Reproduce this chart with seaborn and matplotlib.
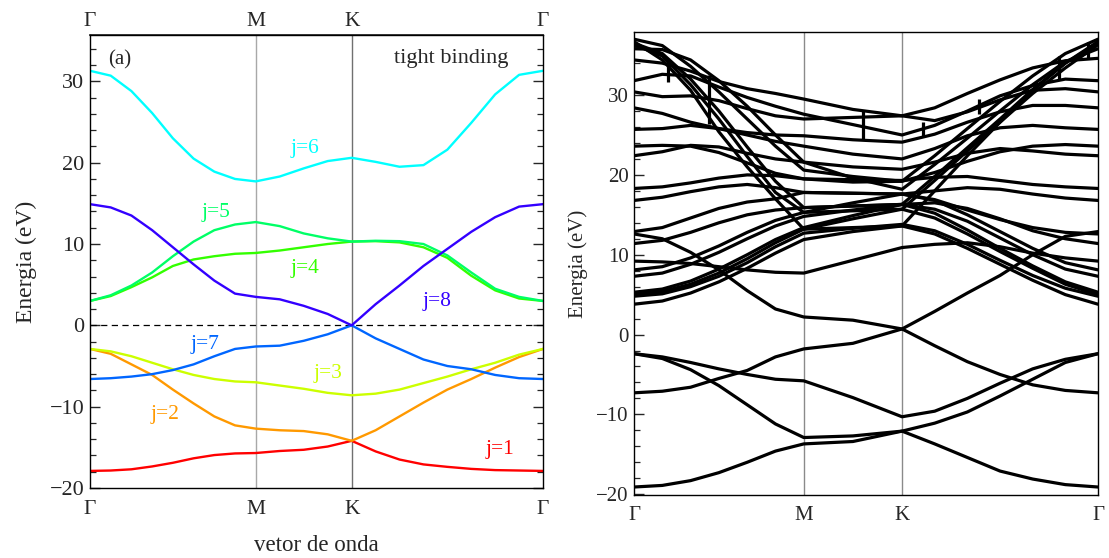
import matplotlib
matplotlib.use("Agg")
import matplotlib.pyplot as plt
import numpy as np
import pandas as pd
import seaborn as sns
from matplotlib.ticker import MultipleLocator

sns.set_theme(style="ticks")
plt.rcParams["font.family"] = ["Liberation Serif", "DejaVu Serif"]

# high-symmetry path Γ–M–K–Γ (path length units, hexagonal lattice)
path_ticks = [0.0, 0.577, 0.911, 1.577]
path_labels = ["Γ", "M", "K", "Γ"]

# ---------------- tight-binding bands (left panel) ----------------
tb_k = [0.0, 0.0721, 0.1443, 0.2164, 0.2885, 0.3606, 0.4328, 0.5049, 0.577,
        0.6605, 0.744, 0.8275, 0.911,
        0.9943, 1.0775, 1.1608, 1.244, 1.3273, 1.4105, 1.4938, 1.577]

tb_j1 = [-17.9, -17.85, -17.7, -17.35, -16.9, -16.35, -15.95, -15.75, -15.7,
         -15.45, -15.3, -14.9, -14.2,
         -15.5, -16.5, -17.1, -17.4, -17.65, -17.8, -17.85, -17.9]
tb_j2 = [-2.9, -3.5, -4.8, -6.1, -7.9, -9.6, -11.2, -12.3, -12.7,
         -12.9, -13.0, -13.4, -14.2,
         -12.9, -11.2, -9.5, -7.9, -6.6, -5.2, -3.9, -2.9]
tb_j3 = [-2.9, -3.2, -3.8, -4.6, -5.4, -6.1, -6.6, -6.9, -7.0,
         -7.4, -7.8, -8.3, -8.6,
         -8.4, -7.9, -7.1, -6.3, -5.4, -4.6, -3.6, -2.9]
tb_j4 = [3.0, 3.6, 4.7, 5.9, 7.3, 8.1, 8.5, 8.8, 8.9,
         9.2, 9.6, 10.0, 10.3,
         10.35, 10.2, 9.6, 8.3, 6.1, 4.3, 3.3, 3.0]
tb_j5 = [3.0, 3.7, 4.9, 6.5, 8.5, 10.3, 11.7, 12.4, 12.7,
         12.2, 11.3, 10.7, 10.3,
         10.4, 10.35, 10.0, 8.6, 6.5, 4.5, 3.5, 3.0]
tb_j6 = [31.3, 30.7, 28.8, 26.1, 23.0, 20.5, 18.9, 18.0, 17.7,
         18.3, 19.3, 20.2, 20.6,
         20.1, 19.5, 19.7, 21.6, 24.9, 28.4, 30.8, 31.3]
tb_j7 = [-6.6, -6.5, -6.3, -6.0, -5.5, -4.8, -3.8, -2.9, -2.6,
         -2.5, -1.9, -1.1, 0.0,
         -1.6, -2.9, -4.2, -5.0, -5.4, -6.1, -6.5, -6.6]
tb_j8 = [14.9, 14.5, 13.5, 11.7, 9.6, 7.5, 5.5, 3.9, 3.5,
         3.2, 2.4, 1.4, 0.0,
         2.6, 4.9, 7.3, 9.4, 11.5, 13.3, 14.6, 14.9]

tb_names = ["j=1", "j=2", "j=3", "j=4", "j=5", "j=6", "j=7", "j=8"]
tb_bands = [tb_j1, tb_j2, tb_j3, tb_j4, tb_j5, tb_j6, tb_j7, tb_j8]
# label anchor (k, E) for each band name
tb_label_k = [1.427, 0.261, 0.829, 0.748, 0.439, 0.748, 0.400, 1.208]
tb_label_E = [-15.3, -11.0, -5.9, 7.0, 13.9, 21.7, -2.4, 2.9]

# ---------------- ab initio bands (right panel) ----------------
dft_k = [0.0, 0.0962, 0.1923, 0.2885, 0.3847, 0.4808, 0.577,
         0.744, 0.911,
         1.022, 1.133, 1.244, 1.355, 1.466, 1.577]

dft_valence = [
    [-19.1, -18.9, -18.3, -17.3, -16.0, -14.6, -13.7, -13.4, -12.1, -13.7, -15.4, -17.1, -18.1, -18.8, -19.1],
    [-2.4, -3.0, -4.4, -6.4, -8.8, -11.2, -12.9, -12.7, -12.1, -11.1, -9.7, -7.7, -5.6, -3.5, -2.4],
    [-2.4, -2.8, -3.5, -4.3, -5.0, -5.6, -5.8, -7.9, -10.3, -9.6, -8.0, -6.1, -4.3, -3.1, -2.4],
    [-7.3, -7.1, -6.6, -5.5, -4.5, -2.8, -1.8, -1.1, 0.7, 2.9, 5.2, 7.4, 10.0, 12.3, 12.9],
    [12.6, 12.0, 10.3, 8.1, 5.5, 3.2, 2.2, 1.8, 0.7, -1.4, -3.4, -5.0, -6.3, -7.0, -7.3],
]
dft_middle = [
    [3.8, 4.2, 5.2, 6.6, 8.3, 10.2, 11.9, 12.9, 13.6, 12.6, 10.8, 8.8, 6.8, 5.0, 3.8],
    [4.8, 5.1, 6.0, 7.3, 9.0, 11.0, 12.7, 13.3, 13.8, 13.0, 11.3, 9.3, 7.4, 5.8, 4.8],
    [5.0, 5.4, 6.3, 7.7, 9.5, 11.5, 13.2, 14.5, 15.7, 14.6, 12.6, 10.4, 8.3, 6.3, 5.0],
    [5.3, 5.7, 6.7, 8.2, 10.0, 11.9, 13.4, 14.9, 16.3, 15.2, 13.1, 10.8, 8.6, 6.6, 5.3],
    [7.3, 7.7, 8.8, 10.3, 12.0, 13.6, 14.8, 15.6, 16.3, 15.7, 14.2, 12.1, 10.0, 8.2, 7.3],
    [8.1, 8.5, 9.6, 11.1, 12.8, 14.3, 15.3, 16.5, 17.6, 16.8, 15.0, 12.9, 10.8, 9.0, 8.1],
    [9.2, 9.1, 8.9, 8.5, 8.1, 7.8, 7.7, 9.3, 10.9, 11.3, 11.5, 11.0, 10.2, 9.6, 9.2],
    [11.4, 11.8, 12.8, 14.0, 15.0, 15.6, 15.9, 16.1, 16.3, 16.5, 15.8, 14.5, 13.0, 12.0, 11.4],
    [12.9, 13.4, 14.6, 15.8, 16.6, 17.0, 17.8, 17.7, 17.6, 16.9, 15.6, 14.4, 13.4, 12.8, 12.6],
]
dft_upper = [
    [16.8, 17.2, 17.9, 18.5, 18.8, 18.4, 17.8, 17.7, 17.6, 18.0, 18.4, 18.2, 17.6, 17.1, 16.8],
    [18.3, 18.5, 19.0, 19.6, 20.0, 19.9, 19.5, 19.4, 19.3, 19.7, 19.8, 19.3, 18.8, 18.5, 18.3],
    [22.4, 22.9, 23.7, 23.5, 22.7, 22.0, 21.6, 21.0, 20.7, 21.6, 22.7, 23.3, 23.0, 22.6, 22.4],
    [23.6, 23.7, 23.6, 22.8, 21.5, 20.2, 19.5, 19.1, 19.2, 20.3, 21.7, 22.9, 23.6, 23.8, 23.6],
    [25.7, 25.8, 26.2, 25.8, 25.0, 24.2, 23.6, 22.6, 22.0, 23.3, 24.9, 25.9, 26.2, 25.9, 25.7],
    [28.4, 27.7, 26.6, 25.8, 25.3, 25.0, 24.9, 24.4, 24.1, 25.1, 26.6, 27.9, 28.7, 28.7, 28.4],
    [30.4, 29.8, 29.9, 29.3, 28.3, 27.4, 27.0, 27.2, 27.4, 26.8, 27.9, 29.4, 30.6, 30.8, 30.4],
    [31.8, 32.6, 32.4, 31.0, 29.7, 28.6, 27.6, 26.3, 25.0, 26.2, 28.0, 29.9, 31.2, 32.0, 31.8],
    [34.4, 34.0, 33.0, 31.7, 30.8, 30.2, 29.5, 28.2, 27.4, 28.4, 30.2, 31.9, 33.4, 34.3, 34.6],
]
dft_steep = [
    [36.7, 34.4, 30.6, 25.4, 21.0, 17.0, 13.2, 13.4, 13.6, 18.0, 22.4, 26.6, 30.6, 34.0, 36.7],
    [36.3, 34.9, 31.3, 27.0, 22.3, 17.8, 15.3, 15.5, 15.7, 19.3, 23.0, 26.6, 30.2, 33.4, 36.3],
    [36.5, 35.2, 32.0, 28.0, 23.5, 19.2, 15.9, 16.1, 16.3, 19.8, 23.4, 27.0, 30.7, 34.0, 36.5],
    [35.8, 35.7, 34.4, 31.8, 28.6, 25.0, 21.6, 19.6, 18.2, 21.3, 24.6, 28.0, 31.3, 34.2, 35.8],
    [37.0, 36.2, 33.6, 30.4, 27.0, 23.6, 20.6, 19.8, 19.2, 22.4, 25.8, 29.2, 32.4, 35.2, 37.0],
]
dft_bands = dft_valence + dft_middle + dft_upper + dft_steep

# band-index switches drawn as vertical steps: position, upper and lower energy
dft_jump_k = [0.1156, 0.255, 0.778, 0.982, 1.173, 1.444, 1.543]
dft_jump_top = [33.7, 32.5, 28.1, 26.6, 29.5, 34.9, 36.7]
dft_jump_bottom = [31.6, 26.4, 24.5, 24.9, 27.6, 32.0, 34.6]

# ---------------- figure ----------------
fig = plt.figure(figsize=(11.09, 5.58), dpi=100)
ax1 = fig.add_axes([90 / 1109, 1 - 488 / 558, 453 / 1109, 453 / 558])
ax2 = fig.add_axes([634 / 1109, 1 - 495 / 558, 464 / 1109, 463 / 558])

tb_df = pd.DataFrame({
    "k": np.tile(tb_k, len(tb_bands)),
    "E": np.concatenate(tb_bands),
    "band": np.repeat(tb_names, len(tb_k)),
})
band_colors = sns.hls_palette(10, h=0.0, l=0.5, s=1.0)[:8]

ax1.axvline(path_ticks[1], color="#a8a8a8", lw=1.0, zorder=0)
ax1.axvline(path_ticks[2], color="#707070", lw=1.0, zorder=0)
ax1.axhline(0, color="black", lw=0.9, ls=(0, (5, 3.5)), zorder=1)
sns.lineplot(data=tb_df, x="k", y="E", hue="band", hue_order=tb_names,
             palette=band_colors, units="band", estimator=None, sort=False,
             lw=1.7, legend=False, ax=ax1)

for name, col, kx, ey in zip(tb_names, band_colors, tb_label_k, tb_label_E):
    ax1.text(kx, ey, name, color=col, fontsize=15.5, ha="center", va="center")
ax1.text(0.104, 32.7, "(a)", fontsize=15, ha="center", va="center")
ax1.text(1.257, 32.8, "tight binding", fontsize=16, ha="center", va="center")

ax1.set_xlim(path_ticks[0], path_ticks[-1])
ax1.set_ylim(-20, 35.7)
ax1.set_xticks(path_ticks)
ax1.set_xticklabels(path_labels)
ax1.yaxis.set_major_locator(MultipleLocator(10))
ax1.yaxis.set_minor_locator(MultipleLocator(2))
ax1.tick_params(axis="x", which="both", length=0, labelsize=15.5, pad=9)
ax1.tick_params(axis="y", which="major", direction="in", length=7, width=1,
                left=True, right=True, labelsize=16, pad=4)
ax1.tick_params(axis="y", which="minor", direction="in", length=4, width=0.9,
                left=True, right=True)
top1 = ax1.secondary_xaxis("top")
top1.set_xticks(path_ticks)
top1.set_xticklabels(path_labels)
top1.tick_params(axis="x", length=0, labelsize=15.5, pad=3)
ax1.set_xlabel("vetor de onda", fontsize=16.5, labelpad=11)
ax1.set_ylabel("Energia (eV)", fontsize=17, labelpad=9)

dft_df = pd.DataFrame({
    "k": np.tile(dft_k, len(dft_bands)),
    "E": np.concatenate(dft_bands),
    "band": np.repeat(np.arange(len(dft_bands)), len(dft_k)),
})
ax2.axvline(path_ticks[1], color="#8a8a8a", lw=1.0, zorder=0)
ax2.axvline(path_ticks[2], color="#8a8a8a", lw=1.0, zorder=0)
sns.lineplot(data=dft_df, x="k", y="E", units="band", estimator=None,
             sort=False, color="black", lw=2.3, legend=False, ax=ax2)
ax2.vlines(dft_jump_k, dft_jump_bottom, dft_jump_top, color="black", lw=2.3)

ax2.set_xlim(path_ticks[0], path_ticks[-1])
ax2.set_ylim(-20.1, 37.9)
ax2.set_xticks(path_ticks)
ax2.set_xticklabels(path_labels)
ax2.yaxis.set_major_locator(MultipleLocator(10))
ax2.yaxis.set_minor_locator(MultipleLocator(2))
ax2.tick_params(axis="x", which="both", length=0, labelsize=15, pad=8)
ax2.tick_params(axis="y", which="major", direction="in", length=7, width=1,
                labelsize=15, pad=4)
ax2.tick_params(axis="y", which="minor", direction="in", length=4, width=0.9)
ax2.set_xlabel("")
ax2.set_ylabel("Energia (eV)", fontsize=15, labelpad=6)

for ax in (ax1, ax2):
    for sp in ax.spines.values():
        sp.set_visible(True)
        sp.set_linewidth(1.0)
        sp.set_color("black")

fig.savefig("out.png", dpi=100)
